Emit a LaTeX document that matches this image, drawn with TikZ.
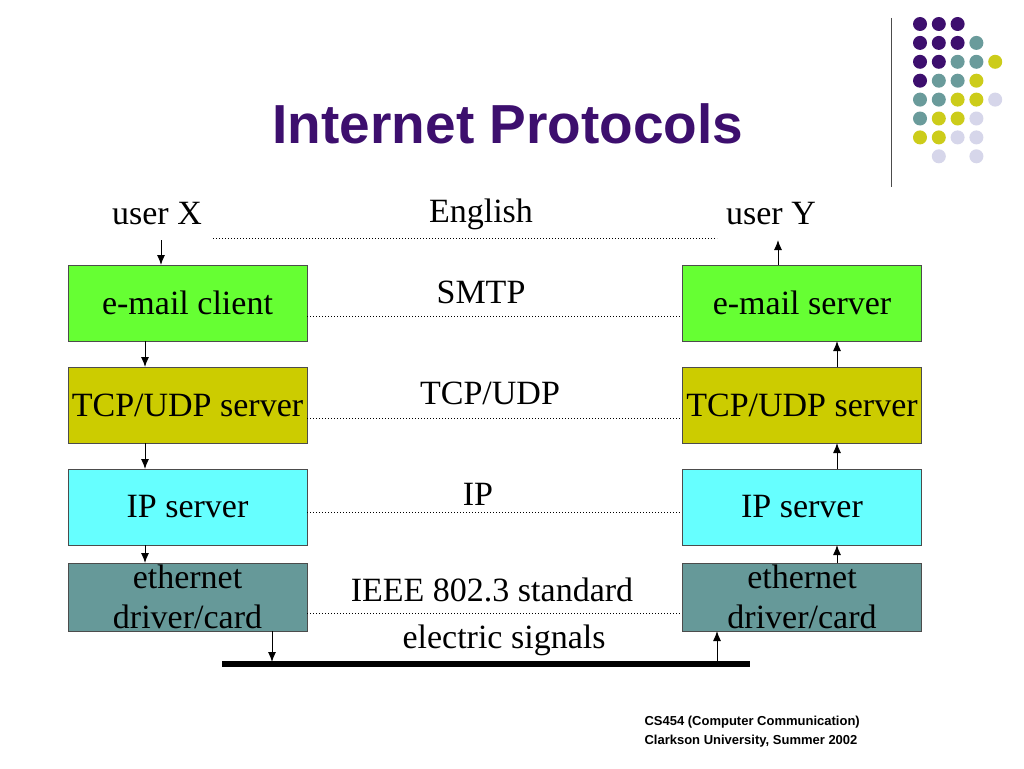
\documentclass[tikz,border=0pt]{standalone}
\usepackage{fontspec}
\setmainfont{Liberation Serif}
\newfontfamily\sansf{Liberation Sans}
\begin{document}
\begin{tikzpicture}[x=1pt,y=-1pt,
  box/.style={draw=black!70,line width=0.8pt,minimum width=239pt,inner sep=0pt,font=\fontsize{34}{40}\selectfont,align=center},
  lbl/.style={font=\fontsize{34}{36}\selectfont},
  dotl/.style={dotted,line width=1pt},
  arr/.style={-{Latex[length=10pt,width=8pt]},line width=1pt},
  dot/.style={circle,inner sep=0pt,minimum size=14pt}]
\usetikzlibrary{arrows.meta}
\definecolor{cP}{HTML}{3D0F6E}\definecolor{cT}{HTML}{6A9B9B}\definecolor{cY}{HTML}{CCCC1A}\definecolor{cL}{HTML}{D6D6EA}
\definecolor{gr}{HTML}{66FF33}\definecolor{ol}{HTML}{CCCC00}\definecolor{cy}{HTML}{66FFFF}\definecolor{te}{HTML}{669999}
\useasboundingbox[fill=white] (0,0) rectangle (1024,768);
\node[font=\sansf\bfseries\fontsize{55}{60}\selectfont,text=cP] (title) at (508,124) {Internet Protocols};
\draw[line width=1pt,black!70] (891,18) -- (891,187);
\foreach \row [count=\r from 0] in {{P,P,P,N,N},{P,P,P,T,N},{P,P,T,T,Y},{P,T,T,Y,N},{T,T,Y,Y,L},{T,Y,Y,L,N},{Y,Y,L,L,N},{N,L,N,L,N}}{
  \foreach \c [count=\k from 0] in \row {
    \if\c N\else\node[dot,fill=c\c] (d\r\k) at ({920+18.8*\k},{24+18.9*\r}) {};\fi
  }}
% boxes
\node[box,fill=gr,minimum height=76pt] (l1) at (187.5,303) {e-mail client};
\node[box,fill=ol,minimum height=76pt] (l2) at (187.5,405) {TCP/UDP server};
\node[box,fill=cy,minimum height=76pt] (l3) at (187.5,507) {IP server};
\node[box,fill=te,minimum height=68pt] (l4) at (187.5,597) {ethernet\\driver/card};
\node[box,fill=gr,minimum height=76pt] (r1) at (802,303) {e-mail server};
\node[box,fill=ol,minimum height=76pt] (r2) at (802,405) {TCP/UDP server};
\node[box,fill=cy,minimum height=76pt] (r3) at (802,507) {IP server};
\node[box,fill=te,minimum height=68pt] (r4) at (802,597) {ethernet\\driver/card};
% labels
\node[lbl] (ux) at (157,214) {user X};
\node[lbl] (uy) at (771,214) {user Y};
\node[lbl] (en) at (481,214) {English};
\node[lbl] (sm) at (481,292) {SMTP};
\node[lbl] (tu) at (490,393) {TCP/UDP};
\node[lbl] (ip) at (478,494) {IP};
\node[lbl] (ie) at (492,590) {IEEE 802.3 standard};
\node[lbl] (es) at (504,640) {electric signals};
% dotted
\coordinate (e1) at (213,238); \coordinate (e2) at (717,238);
\draw[dotl] (e1) -- (e2);
\draw[dotl] (l1.east|-0,316) -- (r1.west|-0,316);
\draw[dotl] (l2.east|-0,418) -- (r2.west|-0,418);
\draw[dotl] (l3.east|-0,512) -- (r3.west|-0,512);
\draw[dotl] (l4.east|-0,613) -- (r4.west|-0,613);
% bus
\coordinate (b1) at (222,664); \coordinate (b2) at (750,664);
\draw[line width=6pt] (b1) -- (b2);
% arrows
\draw[arr] (161,240) -- (161,265);
\draw[arr] (145,341) -- (145,367);
\draw[arr] (145,443) -- (145,469);
\draw[arr] (145,545) -- (145,563);
\draw[arr] (272,631) -- (272,662);
\draw[arr] (717,662) -- (717,631);
\draw[arr] (837,563) -- (837,545);
\draw[arr] (837,469) -- (837,443);
\draw[arr] (837,367) -- (837,341);
\draw[arr] (778,265) -- (778,240);
% footer
\node[font=\sansf\bfseries\fontsize{13}{19}\selectfont,align=left,anchor=north west] (ft) at (641,713) {CS454 (Computer Communication)\\Clarkson University, Summer 2002};
\end{tikzpicture}
\end{document}
